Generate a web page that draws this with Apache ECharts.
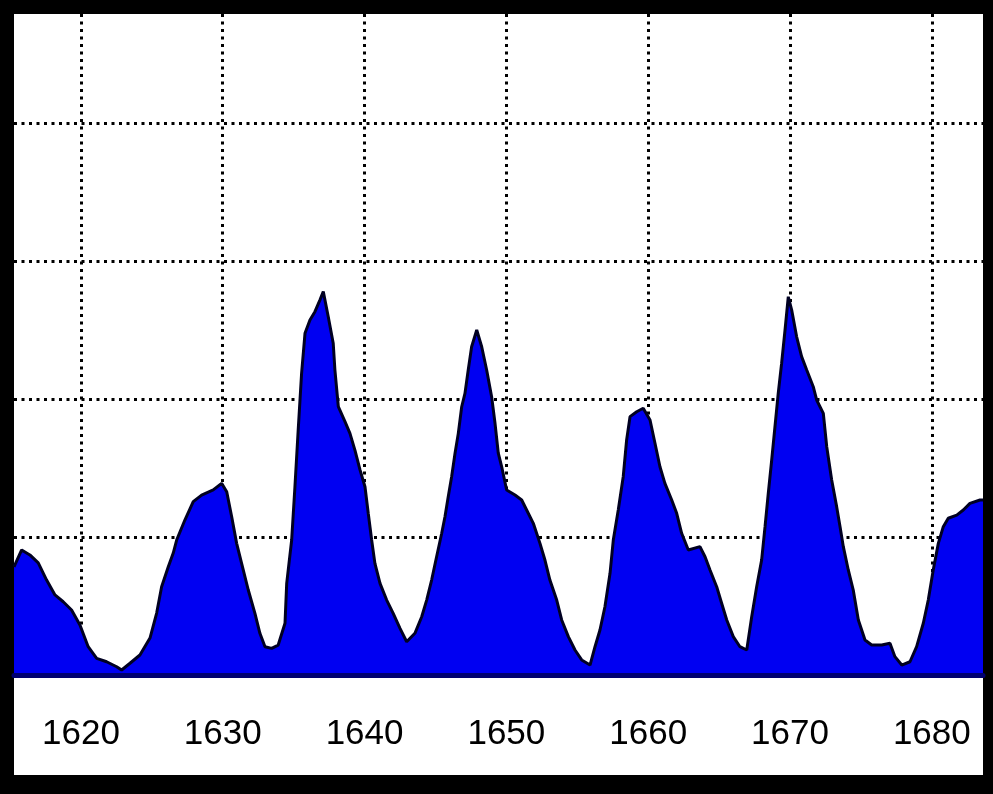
<!DOCTYPE html>
<html>
<head>
<meta charset="utf-8">
<script src="https://cdn.jsdelivr.net/npm/echarts@6/dist/echarts.min.js"></script>
<style>
  html, body { margin: 0; padding: 0; background: #000; }
  #frame { position: absolute; left: 14px; top: 14px; width: 969px; height: 761px; background: #fff; }
  #chart { position: absolute; left: 0; top: 0; width: 993px; height: 794px; }
</style>
</head>
<body>
<div id="frame"></div>
<div id="chart"></div>
<script>
// Years (x) and values (y)
const years = [
  1615.28, 1615.82, 1616.40, 1616.99, 1617.58, 1618.17, 1618.75, 1619.34, 1619.93, 1620.51,
  1621.11, 1621.81, 1622.52, 1622.87, 1623.46, 1624.16, 1624.87, 1625.34, 1625.69, 1626.16,
  1626.51, 1626.75, 1627.33, 1627.92, 1628.51, 1629.33, 1629.92, 1630.28, 1630.63, 1630.98,
  1631.33, 1631.80, 1632.27, 1632.62, 1632.98, 1633.45, 1633.91, 1634.39, 1634.51, 1634.86,
  1635.09, 1635.32, 1635.56, 1635.80, 1636.15, 1636.50, 1636.85, 1637.09, 1637.44, 1637.79,
  1637.91, 1638.15, 1638.62, 1638.97, 1639.32, 1639.68, 1640.03, 1640.26, 1640.50, 1640.73,
  1641.09, 1641.56, 1642.02, 1642.50, 1642.97, 1643.55, 1644.03, 1644.38, 1644.73, 1645.08,
  1645.44, 1645.67, 1645.90, 1646.14, 1646.38, 1646.61, 1646.85, 1647.08, 1647.31, 1647.55,
  1647.91, 1648.26, 1648.61, 1648.96, 1649.20, 1649.43, 1649.67, 1650.02, 1650.61, 1651.08,
  1651.43, 1651.90, 1652.37, 1652.72, 1653.07, 1653.55, 1653.90, 1654.37, 1654.84, 1655.31,
  1655.90, 1656.25, 1656.60, 1656.95, 1657.31, 1657.54, 1657.89, 1658.24, 1658.48, 1658.72,
  1659.19, 1659.65, 1660.13, 1660.48, 1660.83, 1661.18, 1661.66, 1662.01, 1662.36, 1662.83,
  1663.65, 1664.01, 1664.36, 1664.83, 1665.18, 1665.54, 1666.00, 1666.47, 1666.95, 1667.30,
  1667.65, 1668.00, 1668.24, 1668.47, 1668.71, 1668.94, 1669.17, 1669.41, 1669.65, 1669.88,
  1670.12, 1670.47, 1670.82, 1671.18, 1671.64, 1671.88, 1672.35, 1672.59, 1672.94, 1673.29,
  1673.53, 1673.76, 1674.11, 1674.46, 1674.82, 1675.29, 1675.76, 1676.47, 1677.05, 1677.40,
  1677.88, 1678.46, 1678.93, 1679.40, 1679.75, 1680.10, 1680.46, 1680.81, 1681.16, 1681.76,
  1682.22, 1682.69, 1683.40, 1683.61
];
const values = [
  0.783, 0.906, 0.870, 0.812, 0.688, 0.580, 0.531, 0.471, 0.362, 0.205,
  0.121, 0.096, 0.060, 0.036, 0.085, 0.145, 0.268, 0.449, 0.640, 0.785,
  0.884, 0.978, 1.123, 1.256, 1.304, 1.341, 1.389, 1.328, 1.147, 0.954,
  0.809, 0.616, 0.447, 0.302, 0.205, 0.193, 0.217, 0.375, 0.664, 0.978,
  1.364, 1.775, 2.186, 2.476, 2.572, 2.633, 2.717, 2.778, 2.596, 2.404,
  2.210, 1.944, 1.836, 1.751, 1.630, 1.486, 1.364, 1.172, 0.978, 0.809,
  0.664, 0.543, 0.447, 0.338, 0.241, 0.302, 0.422, 0.543, 0.688, 0.857,
  1.027, 1.147, 1.292, 1.437, 1.607, 1.751, 1.944, 2.041, 2.210, 2.379,
  2.500, 2.379, 2.210, 2.017, 1.824, 1.607, 1.509, 1.341, 1.304, 1.268,
  1.196, 1.099, 0.954, 0.833, 0.688, 0.543, 0.399, 0.278, 0.181, 0.109,
  0.072, 0.205, 0.326, 0.495, 0.737, 0.978, 1.196, 1.437, 1.703, 1.872,
  1.908, 1.933, 1.848, 1.679, 1.509, 1.389, 1.268, 1.172, 1.027, 0.906,
  0.930, 0.857, 0.761, 0.640, 0.520, 0.399, 0.278, 0.205, 0.181, 0.422,
  0.640, 0.833, 1.075, 1.317, 1.558, 1.799, 2.041, 2.259, 2.500, 2.741,
  2.645, 2.451, 2.307, 2.210, 2.089, 1.993, 1.896, 1.654, 1.413, 1.220,
  1.075, 0.930, 0.761, 0.616, 0.399, 0.254, 0.217, 0.217, 0.230, 0.133,
  0.072, 0.096, 0.205, 0.375, 0.543, 0.761, 0.954, 1.075, 1.136, 1.159,
  1.196, 1.244, 1.268, 1.268
];
const xTicks = [1620, 1630, 1640, 1650, 1660, 1670, 1680];
const yTicks = [1, 2, 3, 4];
const xRange = [1615.28, 1683.61];
const yRange = [0, 4.79];

const seriesData = years.map((y, i) => [y, values[i]]);

const chart = echarts.init(document.getElementById('chart'), null, { renderer: 'canvas' });
const dotted = { color: '#000', width: 3, type: [3, 4.5] };
chart.setOption({
  animation: false,
  backgroundColor: 'transparent',
  grid: { left: 14, right: 10, top: 14, bottom: 119, containLabel: false },
  xAxis: [{
    type: 'value',
    min: xRange[0],
    max: xRange[1],
    axisLine: { show: false },
    axisTick: { show: false, customValues: xTicks },
    axisLabel: {
      customValues: xTicks,
      margin: 42,
      color: '#000',
      fontFamily: 'Liberation Sans, Arial, sans-serif',
      fontSize: 35,
      formatter: v => String(v)
    },
    splitLine: { show: true, lineStyle: dotted }
  }, {
    type: 'value',
    position: 'bottom',
    min: xRange[0],
    max: xRange[1],
    z: 10,
    axisLine: { show: true, onZero: false, lineStyle: { color: '#000070', width: 5 } },
    axisTick: { show: false },
    axisLabel: { show: false },
    splitLine: { show: false }
  }],
  yAxis: {
    type: 'value',
    min: yRange[0],
    max: yRange[1],
    axisLine: { show: false },
    axisTick: { show: false, customValues: yTicks },
    axisLabel: { show: false, customValues: yTicks },
    splitLine: { show: true, lineStyle: dotted }
  },
  series: [{
    type: 'line',
    data: seriesData,
    showSymbol: false,
    smooth: false,
    lineStyle: { color: '#000022', width: 3 },
    areaStyle: { color: '#0000f2', opacity: 1, origin: 'start' },
    z: 3
  }]
});
</script>
</body>
</html>
